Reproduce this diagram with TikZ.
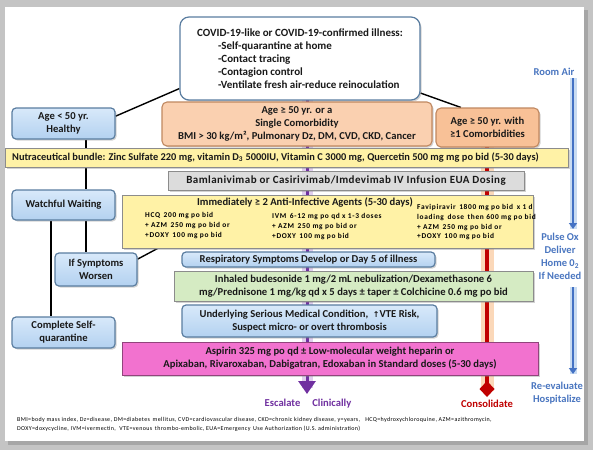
\documentclass[tikz,border=0pt]{standalone}
\usepackage{fontspec}
\setmainfont{Carlito}
\newfontfamily\dejavu{DejaVu Sans}
\newfontfamily\spaced[LetterSpace=9]{Carlito}
\newfontfamily\footfam[LetterSpace=6]{Carlito}
\newfontfamily\bamfam[LetterSpace=4]{Carlito}
\usetikzlibrary{arrows.meta,shadows}
\definecolor{framegray}{HTML}{C4C4C4}
\definecolor{bluefill1}{HTML}{D8E9FA}
\definecolor{bluefill2}{HTML}{B3D1F0}
\definecolor{blueedge}{HTML}{5A7DA0}
\definecolor{orfill}{HTML}{FAD0B0}
\definecolor{orfill2}{HTML}{F8C197}
\definecolor{oredge}{HTML}{C08860}
\definecolor{yelfill}{HTML}{FFF2A6}
\definecolor{grayfill}{HTML}{DCDCDC}
\definecolor{greenfill}{HTML}{D5EBC3}
\definecolor{pinkfill}{HTML}{F272CF}
\definecolor{boxedge}{HTML}{8C8C8C}
\definecolor{purp}{HTML}{7030A0}
\definecolor{purpglow}{HTML}{D9C2EA}
\definecolor{redline}{HTML}{C00000}
\definecolor{redglow}{HTML}{FBCFA8}
\definecolor{blueline}{HTML}{4472C4}
\definecolor{blueglow}{HTML}{C9DCF2}
\definecolor{bluetext}{HTML}{4A76C0}
\pgfdeclarelayer{bottom}
\pgfdeclarelayer{background}
\pgfsetlayers{bottom,background,main}
\tikzset{
  txt/.style={font=\fontsize{10.6}{13}\selectfont\bfseries, inner sep=0pt, text=black!90},
  shadowed/.style={drop shadow={opacity=0.35, shadow xshift=1.5pt, shadow yshift=-1.5pt}},
  bluebox/.style={txt, rounded corners=4pt, draw=blueedge, line width=1.2pt, top color=bluefill1, bottom color=bluefill2, shadowed, align=center},
  orbox/.style={txt, rounded corners=5pt, draw=oredge, line width=1.1pt, fill=orfill, shadowed, align=center},
  whitebox/.style={txt, font=\fontsize{11}{13}\selectfont\bfseries, rounded corners=9pt, draw=blueedge, line width=1.2pt, fill=white, shadowed, align=left},
  barbox/.style={txt, draw=boxedge, line width=1pt, shadowed, align=center},
  conn/.style={line width=1.4pt, black},
  smalltxt/.style={font=\spaced\fontsize{7.4}{9.6}\selectfont\bfseries, inner sep=0pt, align=left, anchor=north west},
  sidetxt/.style={font=\fontsize{10.5}{13}\selectfont\bfseries, inner sep=0pt, text=bluetext, align=center},
  foot/.style={font=\footfam\fontsize{6}{8}\selectfont, inner sep=0pt, anchor=west}
}
\begin{document}
\begin{tikzpicture}[x=1pt,y=-1pt]
\useasboundingbox (0,0) rectangle (593,450);
\begin{pgfonlayer}{bottom}
\fill[framegray] (0,0) rectangle (593,450);
\fill[black!35] (8,10) rectangle (588,445);
\fill[white] (5,7) rectangle (584,441);
\end{pgfonlayer}

% boxes
\node[whitebox, minimum width=240pt, minimum height=83pt] (top) at (300,58.5)
 {COVID-19-like or COVID-19-confirmed illness:\\
  \hspace*{21pt}-Self-quarantine at home\\
  \hspace*{21pt}-Contact tracing\\
  \hspace*{21pt}-Contagion control\\
  \hspace*{21pt}-Ventilate fresh air-reduce reinoculation};
\node[bluebox, minimum width=103pt, minimum height=31pt] (age50) at (63.5,123.5) {Age < 50 yr.\\Healthy};
\node[orbox, minimum width=270pt, minimum height=44pt] (single) at (297,124)
 {Age ≥ 50 yr. or a\\Single Comorbidity\\BMI > 30 kg/m², Pulmonary Dz, DM, CVD, CKD, Cancer};
\node[orbox, fill=orfill2, minimum width=103pt, minimum height=39pt] (comorb) at (487.5,127.5)
 {Age ≥ 50 yr. with\\≥1 Comorbidities};
\node[barbox, fill=yelfill, minimum width=563pt, minimum height=19pt] (nutra) at (286.5,157.5) {};
\node[txt, anchor=west, font=\fontsize{10.4}{13}\selectfont\bfseries] (nutratext) at (12,157.5)
 {Nutraceutical bundle: Zinc Sulfate 220 mg, vitamin D\textsubscript{3} 5000IU, Vitamin C 3000 mg, Quercetin 500 mg mg po bid (5-30 days)};
\node[barbox, fill=grayfill, minimum width=356pt, minimum height=19pt, font=\bamfam\fontsize{11}{13}\selectfont\bfseries] (bam) at (346,180.5)
 {Bamlanivimab or Casirivimab/Imdevimab IV Infusion EUA Dosing};
\node[bluebox, minimum width=103pt, minimum height=30pt] (watch) at (63.5,205) {Watchful Waiting};
\node[barbox, fill=yelfill, minimum width=411pt, minimum height=53pt] (anti) at (327.5,221.5) {};
\node[txt] (antititle) at (305,202) {Immediately ≥ 2 Anti-Infective Agents (5-30 days)};
\node[smalltxt] (hcq) at (145,212.5) {HCQ\, 200 mg po bid\\+ AZM\, 250 mg po bid or\\+DOXY\, 100 mg po bid};
\node[smalltxt] (ivm) at (272,213.5) {IVM\, 6-12 mg po qd x 1-3 doses\\+ AZM\, 250 mg po bid or\\+DOXY\, 100 mg po bid};
\node[smalltxt] (favi) at (417,204.5) {Favipiravir\, 1800 mg po bid\, x 1 d\\loading\, dose\, then 600 mg po bid\\+ AZM\, 250 mg po bid or\\+DOXY\, 100 mg po bid};
\node[bluebox, minimum width=82pt, minimum height=33pt] (worsen) at (96,269.5) {If Symptoms\\Worsen};
\node[bluebox, minimum width=253pt, minimum height=15pt] (resp) at (308.5,259.5) {Respiratory Symptoms Develop or Day 5 of illness};
\node[barbox, fill=greenfill, minimum width=359pt, minimum height=30pt] (inhaled) at (353.5,286)
 {Inhaled budesonide 1 mg/2 mL nebulization/Dexamethasone 6\\mg/Prednisone 1 mg/kg qd x 5 days ± taper ± Colchicine 0.6 mg po bid};
\node[bluebox, minimum width=255pt, minimum height=32pt] (under) at (309.5,321)
 {Underlying Serious Medical Condition,\ \ {\dejavu\fontsize{8}{10}\selectfont ↑}VTE Risk,\\Suspect micro- or overt thrombosis};
\node[bluebox, minimum width=103pt, minimum height=31pt] (selfq) at (63.5,332.5) {Complete Self-\\quarantine};
\node[barbox, fill=pinkfill, draw=pinkfill!60!black, minimum width=416pt, minimum height=33pt] (aspirin) at (330,358.5)
 {Aspirin 325 mg po qd ± Low-molecular weight heparin or\\Apixaban, Rivaroxaban, Dabigatran, Edoxaban in Standard doses (5-30 days)};

% connectors behind boxes
\coordinate (pA) at (307,100);
\coordinate (pB) at (307,394);
\coordinate (rA) at (487,147);
\coordinate (rB) at (487,397);
\begin{pgfonlayer}{background}
\draw[purpglow, line width=11pt, opacity=0.8] (pA) -- ([yshift=6pt]pB);
\draw[purp, line width=3pt, -{Triangle[width=17pt,length=13pt]}] (pA) -- (pB);
\draw[redglow, line width=13pt, opacity=0.8] (rA) -- ([yshift=6pt]rB);
\draw[redline, line width=3.5pt, -{Diamond[width=15pt,length=16pt]}] (rA) -- (rB);
\draw[conn] (top.194) -- (age50.8);
\draw[conn] (top.-16) -- (comorb.143);
\draw[conn] ([xshift=22.5pt]age50.south) -- ([xshift=22.5pt]watch.north);
\draw[conn] ([xshift=22.5pt]watch.south) -- ([xshift=22.5pt]watch.south |- worsen.north);
\draw[conn] ([xshift=-12.5pt]watch.south) -- ([xshift=-12.5pt]selfq.north);
\draw[conn] (worsen.14) -- ([xshift=36pt]anti.south west);
\end{pgfonlayer}

% right-hand blue track
\node[sidetxt] (roomair) at (554,72) {Room Air};
\node[sidetxt] (pulse) at (560,256.5) {Pulse Ox\\Deliver\\Home 0\textsubscript{2}\\If Needed};
\node[sidetxt] (reeval) at (557,393) {Re-evaluate\\Hospitalize};
\coordinate (bA) at (573,78);
\coordinate (bB) at (573,229);
\coordinate (bC) at (573,287);
\coordinate (bD) at (573,374);
\draw[blueglow, line width=7pt] (bA) -- (bB);
\draw[blueline, line width=2.6pt, -{Triangle[width=8pt,length=6pt]}] (bA) -- (bB);
\draw[blueglow, line width=7pt] (bC) -- (bD);
\draw[blueline, line width=2.6pt, -{Triangle[width=8pt,length=6pt]}] (bC) -- (bD);

% bottom labels
\node[txt, text=purp] (escalate) at (308,404) {Escalate\hspace{12pt}Clinically};
\node[txt, text=redline] (consol) at (487,404) {Consolidate};

\node[foot] (foot1) at (17,420) {BMI=body mass index, Dz=disease, DM=diabetes\, mellitus, CVD=cardiovascular disease, CKD=chronic kidney disease, y=years,\ \ \ HCQ=hydroxychloroquine, AZM=azithromycin,};
\node[foot] (foot2) at (17,428.5) {DOXY=doxycycline, IVM=ivermectin,\ \ VTE=venous\, thrombo-embolic, EUA=Emergency\, Use Authorization (U.S. administration)};
\end{tikzpicture}
\end{document}
